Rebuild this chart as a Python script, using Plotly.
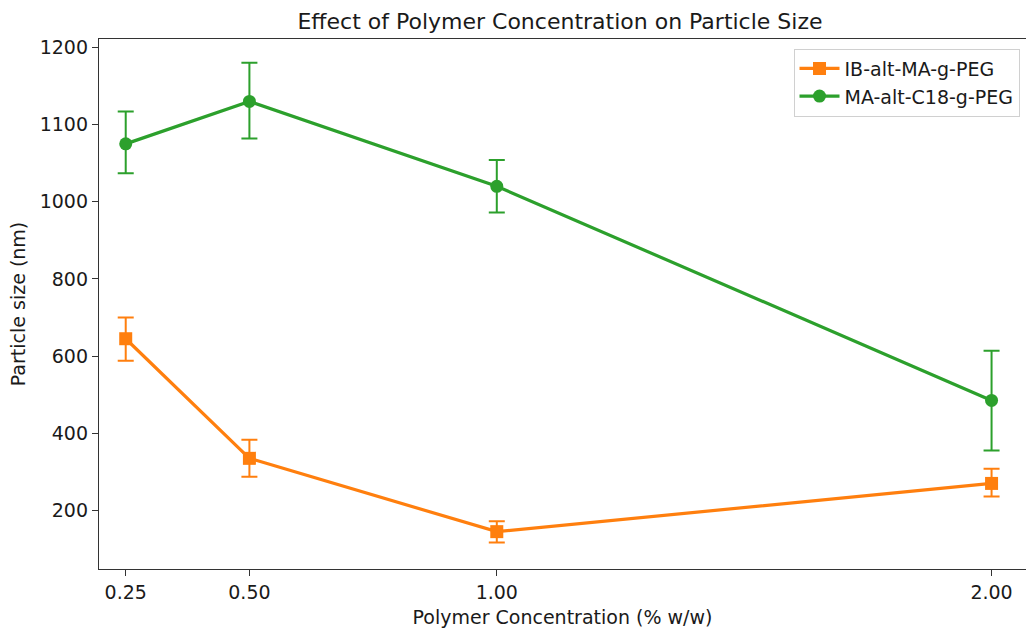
import numpy as np
import plotly.graph_objects as go

# ---- data ----
concentration = [0.25, 0.50, 1.00, 2.00]
x_tick_labels = ["0.25", "0.50", "1.00", "2.00"]

ib_size = [645, 335, 145, 270]
ib_upper = [700, 383, 172, 308]
ib_lower = [588, 287, 117, 236]

ma_size = [1075, 1130, 1020, 485]
ma_upper = [1117, 1180, 1054, 614]
ma_lower = [1037, 1082, 972, 355]

y_tick_values = [200, 400, 600, 800, 1000, 1100, 1200]
y_tick_labels = ["200", "400", "600", "800", "1000", "1100", "1200"]

series_names = ["IB-alt-MA-g-PEG", "MA-alt-C18-g-PEG"]

# ---- piecewise axis scale: the y ticks are evenly spaced ----
tick_pos = np.arange(len(y_tick_values), dtype=float)
tv = np.array(y_tick_values, dtype=float)


def yscale(v):
    v = np.asarray(v, dtype=float)
    out = np.interp(v, tv, tick_pos)
    lo = v < tv[0]
    out[lo] = (v[lo] - tv[0]) / (tv[1] - tv[0])
    hi = v > tv[-1]
    out[hi] = tick_pos[-1] + (v[hi] - tv[-1]) / (tv[-1] - tv[-2])
    return out


FONT = "DejaVu Sans"
ORANGE = "#ff7f0e"
GREEN = "#2ca02c"
TXT = "#1a1a1a"

fig = go.Figure()


def add_series(name, vals, upper, lower, color, symbol):
    c = yscale(vals)
    up = yscale(upper) - c
    dn = c - yscale(lower)
    fig.add_trace(go.Scatter(
        x=concentration, y=c, name=name, mode="lines+markers",
        line=dict(color=color, width=3.2),
        marker=dict(color=color, symbol=symbol, size=13),
        error_y=dict(type="data", symmetric=False, array=up, arrayminus=dn,
                     color=color, thickness=2, width=8),
    ))


add_series(series_names[0], ib_size, ib_upper, ib_lower, ORANGE, "square")
add_series(series_names[1], ma_size, ma_upper, ma_lower, GREEN, "circle")

axis_common = dict(
    showgrid=False, zeroline=False, showline=True, linecolor="#333333",
    linewidth=1.3, ticks="outside", ticklen=6, tickwidth=1.2,
    tickcolor="#333333", tickfont=dict(family=FONT, size=19, color=TXT),
)

fig.update_layout(
    width=1026, height=631,
    margin=dict(l=99, r=0, t=39, b=62),
    paper_bgcolor="white", plot_bgcolor="white",
    font=dict(family=FONT, color=TXT),
    title=dict(text="Effect of Polymer Concentration on Particle Size",
               x=(560 / 1026), xanchor="center", y=0.966, yanchor="middle",
               font=dict(family=FONT, size=22, color=TXT)),
    xaxis=dict(
        range=[0.196, 2.0696],
        tickvals=concentration, ticktext=x_tick_labels,
        mirror=True,
        title=dict(text="Polymer Concentration (% w/w)", standoff=8,
                   font=dict(family=FONT, size=19, color=TXT)),
        **axis_common,
    ),
    yaxis=dict(
        range=[-0.759, 6.109],
        tickvals=tick_pos.tolist(), ticktext=y_tick_labels,
        mirror=False,
        title=dict(text="Particle size (nm)", standoff=9,
                   font=dict(family=FONT, size=19, color=TXT)),
        **axis_common,
    ),
    legend=dict(
        x=0.993, xanchor="right", y=0.982, yanchor="top",
        bgcolor="white", bordercolor="#d0d0d0", borderwidth=1,
        font=dict(family=FONT, size=19, color=TXT),
        itemwidth=40,
    ),
    showlegend=True,
)

fig.write_html("out.html")
